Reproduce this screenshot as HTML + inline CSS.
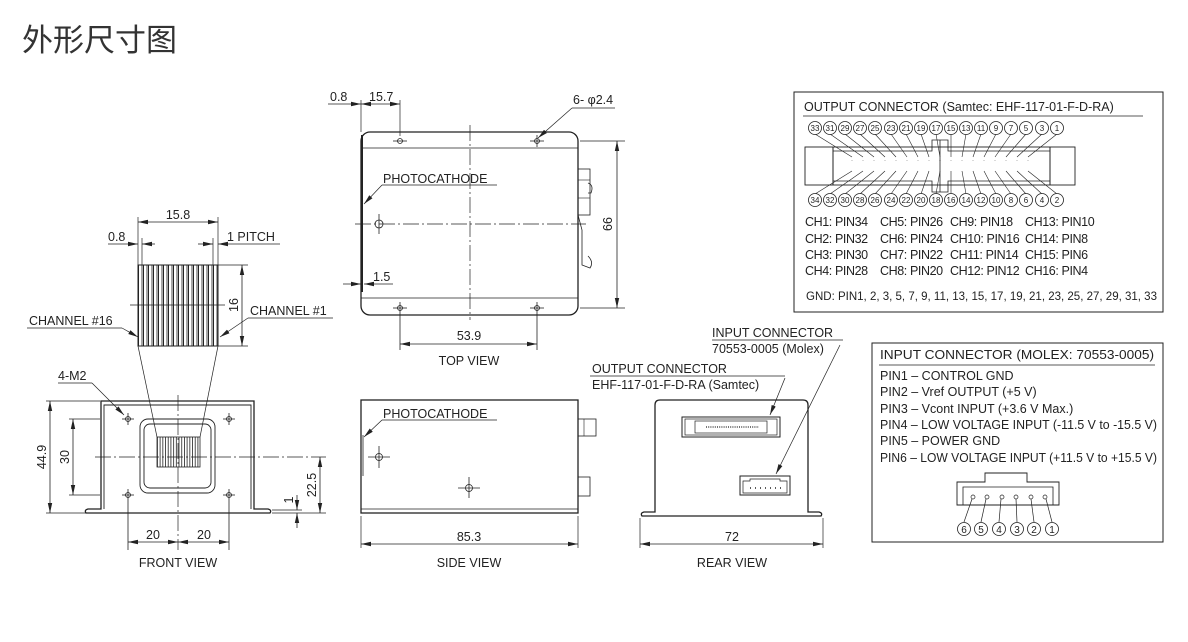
<!DOCTYPE html>
<html><head><meta charset="utf-8"><style>
html,body{margin:0;padding:0;background:#fff}
svg{display:block}
text{font-family:"Liberation Sans",Arial,sans-serif;fill:#222;font-size:12.5px}
.c{text-anchor:middle}
.n{font-size:8px;text-anchor:middle}
</style></head><body>
<svg width="1188" height="642" viewBox="0 0 1188 642" xmlns="http://www.w3.org/2000/svg">
<defs>
<pattern id="strip" x="138" y="0" width="5" height="10" patternUnits="userSpaceOnUse">
<rect x="0" y="0" width="1" height="10" fill="#222"/><rect x="3.6" y="0" width="0.8" height="10" fill="#222"/>
</pattern>
<pattern id="strip2" x="157" y="0" width="2.7" height="10" patternUnits="userSpaceOnUse">
<rect x="0" y="0" width="0.8" height="10" fill="#222"/>
</pattern>
<pattern id="pins" x="849" y="0" width="11" height="20" patternUnits="userSpaceOnUse">
<circle cx="3" cy="3" r="1.8" fill="none" stroke="#222" stroke-width="0.8"/>
</pattern>
<marker id="a" markerWidth="10" markerHeight="6" refX="10" refY="3" orient="auto" markerUnits="userSpaceOnUse"><path d="M0,0.8 L10,3 L0,5.2z" fill="#222"/></marker>
<marker id="b" markerWidth="10" markerHeight="6" refX="0" refY="3" orient="auto" markerUnits="userSpaceOnUse"><path d="M10,0.8 L0,3 L10,5.2z" fill="#222"/></marker>
</defs>

<text x="22" y="51" style="font-family:'Liberation Sans','Noto Sans CJK SC',sans-serif;font-size:31px;fill:#333">外形尺寸图</text>

<g stroke="#222" fill="none" stroke-width="1">
<!-- ===== FRONT VIEW ===== -->
<rect x="138" y="265" width="80" height="81" fill="url(#strip)" stroke="#222"/>
<line x1="130" y1="305" x2="225" y2="305" stroke-width="0.7"/>
<line x1="138" y1="217" x2="138" y2="265" stroke-width="0.7"/>
<line x1="218" y1="217" x2="218" y2="265" stroke-width="0.7"/>
<line x1="142" y1="238" x2="142" y2="265" stroke-width="0.7"/>
<line x1="213" y1="238" x2="213" y2="265" stroke-width="0.7"/>
<line x1="138" y1="222" x2="218" y2="222" marker-start="url(#b)" marker-end="url(#a)" stroke-width="0.8"/>
<line x1="108" y1="244" x2="138" y2="244" marker-end="url(#a)" stroke-width="0.8"/>
<line x1="155" y1="244" x2="142" y2="244" marker-end="url(#a)" stroke-width="0.8"/>
<line x1="198" y1="244" x2="213" y2="244" marker-end="url(#a)" stroke-width="0.8"/>
<line x1="280" y1="244" x2="218" y2="244" marker-end="url(#a)" stroke-width="0.8"/>
<line x1="218" y1="265" x2="248" y2="265" stroke-width="0.7"/>
<line x1="218" y1="346" x2="248" y2="346" stroke-width="0.7"/>
<line x1="242" y1="265" x2="242" y2="346" marker-start="url(#b)" marker-end="url(#a)" stroke-width="0.8"/>
<line x1="27" y1="328" x2="122" y2="328" stroke-width="0.7"/>
<line x1="122" y1="328" x2="138" y2="337" marker-end="url(#a)" stroke-width="0.7"/>
<line x1="248" y1="318" x2="333" y2="318" stroke-width="0.7"/>
<line x1="248" y1="318" x2="220" y2="337" marker-end="url(#a)" stroke-width="0.7"/>
<line x1="138" y1="346" x2="157" y2="437" stroke-width="0.7"/>
<line x1="218" y1="346" x2="200" y2="437" stroke-width="0.7"/>
<path d="M86,513 Q84,510 88,509 L101,509 L101,401 L254,401 L254,509 L268,509 Q272,510 270,513 Z" stroke-width="1.3"/>
<path d="M104,509 L104,405 L251,405 L251,509" stroke-width="0.9"/>
<rect x="140" y="419" width="75" height="74" rx="8" stroke-width="0.9"/>
<rect x="144" y="424" width="67" height="64" rx="6" stroke-width="0.9"/>
<rect x="157" y="437" width="43" height="30" fill="url(#strip2)" stroke-width="0.8"/>
<g stroke-width="0.8">
<circle cx="128" cy="419" r="2.5"/><line x1="122" y1="419" x2="134" y2="419"/><line x1="128" y1="413" x2="128" y2="425"/>
<circle cx="229" cy="419" r="2.5"/><line x1="223" y1="419" x2="235" y2="419"/><line x1="229" y1="413" x2="229" y2="425"/>
<circle cx="128" cy="495" r="2.5"/><line x1="122" y1="495" x2="134" y2="495"/><line x1="128" y1="489" x2="128" y2="550"/>
<circle cx="229" cy="495" r="2.5"/><line x1="223" y1="495" x2="235" y2="495"/><line x1="229" y1="489" x2="229" y2="550"/>
</g>
<line x1="178" y1="395" x2="178" y2="550" stroke-width="0.7" stroke-dasharray="16,3,2,3"/>
<line x1="95" y1="457" x2="326" y2="457" stroke-width="0.7" stroke-dasharray="16,3,2,3"/>
<line x1="46" y1="401" x2="100" y2="401" stroke-width="0.7"/>
<line x1="46" y1="513" x2="86" y2="513" stroke-width="0.7"/>
<line x1="50" y1="401" x2="50" y2="513" marker-start="url(#b)" marker-end="url(#a)" stroke-width="0.8"/>
<line x1="69" y1="419" x2="100" y2="419" stroke-width="0.7"/>
<line x1="69" y1="495" x2="100" y2="495" stroke-width="0.7"/>
<line x1="73" y1="419" x2="73" y2="495" marker-start="url(#b)" marker-end="url(#a)" stroke-width="0.8"/>
<line x1="272" y1="513" x2="326" y2="513" stroke-width="0.7"/>
<line x1="272" y1="510" x2="302" y2="510" stroke-width="0.7"/>
<line x1="320" y1="457" x2="320" y2="513" marker-start="url(#b)" marker-end="url(#a)" stroke-width="0.8"/>
<line x1="297" y1="495" x2="297" y2="510" marker-end="url(#a)" stroke-width="0.8"/>
<line x1="297" y1="528" x2="297" y2="513" marker-end="url(#a)" stroke-width="0.8"/>
<line x1="128" y1="542" x2="178" y2="542" marker-start="url(#b)" marker-end="url(#a)" stroke-width="0.8"/>
<line x1="178" y1="542" x2="229" y2="542" marker-start="url(#b)" marker-end="url(#a)" stroke-width="0.8"/>
<line x1="58" y1="383" x2="92" y2="383" stroke-width="0.7"/>
<line x1="92" y1="383" x2="124" y2="415" marker-end="url(#a)" stroke-width="0.7"/>

<!-- ===== TOP VIEW ===== -->
<rect x="361" y="132" width="217" height="183" rx="9" stroke-width="1.3"/>
<line x1="361" y1="148" x2="578" y2="148" stroke-width="0.8"/>
<line x1="361" y1="298" x2="578" y2="298" stroke-width="0.8"/>
<line x1="362" y1="135" x2="362" y2="292" stroke-width="2"/>
<line x1="470" y1="125" x2="470" y2="320" stroke-width="0.7" stroke-dasharray="16,3,2,3"/>
<line x1="355" y1="224" x2="586" y2="224" stroke-width="0.7" stroke-dasharray="16,3,2,3"/>
<g stroke-width="0.8">
<circle cx="400" cy="141" r="2.5"/><line x1="393" y1="141" x2="407" y2="141"/>
<circle cx="537" cy="141" r="2.5"/><line x1="530" y1="141" x2="544" y2="141"/><line x1="537" y1="135" x2="537" y2="147"/>
<circle cx="400" cy="308" r="2.5"/><line x1="393" y1="308" x2="407" y2="308"/><line x1="400" y1="302" x2="400" y2="350"/>
<circle cx="537" cy="308" r="2.5"/><line x1="530" y1="308" x2="544" y2="308"/><line x1="537" y1="302" x2="537" y2="350"/>
<circle cx="379" cy="224" r="4"/><line x1="379" y1="214" x2="379" y2="234"/>
</g>
<rect x="578" y="169" width="12" height="46" stroke-width="0.8"/>
<line x1="578" y1="180" x2="590" y2="180" stroke-width="0.6"/><line x1="578" y1="198" x2="590" y2="198" stroke-width="0.6"/>
<path d="M588,183 q6,2 3,10 l-3,0" stroke-width="0.8"/>
<path d="M578,215 L582,230 L582,265 L590,268 q4,-6 -2,-12" stroke-width="0.8"/>
<line x1="580" y1="141" x2="625" y2="141" stroke-width="0.7"/>
<line x1="580" y1="308" x2="625" y2="308" stroke-width="0.7"/>
<line x1="617" y1="141" x2="617" y2="308" marker-start="url(#b)" marker-end="url(#a)" stroke-width="0.8"/>
<line x1="361" y1="100" x2="361" y2="132" stroke-width="0.7"/>
<line x1="400" y1="100" x2="400" y2="136" stroke-width="0.7"/>
<line x1="328" y1="104" x2="361" y2="104" marker-end="url(#a)" stroke-width="0.8"/>
<line x1="361" y1="104" x2="400" y2="104" marker-start="url(#b)" marker-end="url(#a)" stroke-width="0.8"/>
<line x1="572" y1="108" x2="615" y2="108" stroke-width="0.7"/>
<line x1="572" y1="108" x2="538" y2="138" marker-end="url(#a)" stroke-width="0.7"/>
<line x1="382" y1="185" x2="497" y2="185" stroke-width="0.7"/>
<line x1="382" y1="185" x2="364" y2="204" marker-end="url(#a)" stroke-width="0.7"/>
<line x1="343" y1="284" x2="361" y2="284" marker-end="url(#a)" stroke-width="0.8"/>
<line x1="393" y1="284" x2="364" y2="284" marker-end="url(#a)" stroke-width="0.8"/>
<line x1="400" y1="344" x2="537" y2="344" marker-start="url(#b)" marker-end="url(#a)" stroke-width="0.8"/>

<!-- ===== SIDE VIEW ===== -->
<rect x="361" y="400" width="217" height="113" stroke-width="1.3"/>
<line x1="361" y1="509" x2="578" y2="509" stroke-width="0.8"/>
<line x1="363" y1="435" x2="363" y2="476" stroke-width="0.8"/>
<rect x="578" y="419" width="18" height="17" stroke-width="0.8"/><line x1="584" y1="419" x2="584" y2="436" stroke-width="0.6"/>
<rect x="578" y="477" width="12" height="19" stroke-width="0.8"/>
<g stroke-width="0.8">
<circle cx="379" cy="457" r="3.5"/><line x1="368" y1="457" x2="390" y2="457"/><line x1="379" y1="446" x2="379" y2="468"/>
<circle cx="469" cy="488" r="3.5"/><line x1="458" y1="488" x2="480" y2="488"/><line x1="469" y1="477" x2="469" y2="498"/>
</g>
<line x1="382" y1="420" x2="497" y2="420" stroke-width="0.7"/>
<line x1="382" y1="420" x2="364" y2="437" marker-end="url(#a)" stroke-width="0.7"/>
<line x1="361" y1="516" x2="361" y2="548" stroke-width="0.7"/>
<line x1="578" y1="516" x2="578" y2="548" stroke-width="0.7"/>
<line x1="361" y1="544" x2="578" y2="544" marker-start="url(#b)" marker-end="url(#a)" stroke-width="0.8"/>

<!-- ===== REAR VIEW ===== -->
<path d="M642,516 Q640,513 644,512 L655,512 L655,405 Q655,400 660,400 L803,400 Q808,400 808,405 L808,512 L819,512 Q823,513 821,516 Z" stroke-width="1.3"/>
<rect x="682" y="417" width="98" height="20" stroke-width="1"/>
<rect x="685" y="419" width="92" height="16" stroke-width="0.7"/>
<rect x="695" y="421" width="72" height="12" stroke-width="0.7"/>
<line x1="706" y1="427" x2="759" y2="427" stroke-dasharray="1,1.2" stroke-width="1.2"/>
<rect x="740" y="476" width="50" height="19" stroke-width="1"/>
<path d="M743,493 L743,481 L750,481 L750,479 L780,479 L780,481 L787,481 L787,493 Z" stroke-width="0.7"/>
<line x1="750" y1="488" x2="782" y2="488" stroke-dasharray="1,4" stroke-width="1.5"/>
<line x1="640" y1="518" x2="640" y2="548" stroke-width="0.7"/>
<line x1="823" y1="518" x2="823" y2="548" stroke-width="0.7"/>
<line x1="640" y1="544" x2="823" y2="544" marker-start="url(#b)" marker-end="url(#a)" stroke-width="0.8"/>
<line x1="590" y1="376" x2="785" y2="376" stroke-width="0.7"/>
<line x1="785" y1="378" x2="770" y2="415" marker-end="url(#a)" stroke-width="0.7"/>
<line x1="712" y1="340" x2="843" y2="340" stroke-width="0.7"/>
<line x1="840" y1="345" x2="776" y2="474" marker-end="url(#a)" stroke-width="0.7"/>

<!-- ===== OUTPUT CONNECTOR BOX ===== -->
<rect x="794" y="92" width="369" height="220" stroke-width="1"/>
<line x1="803" y1="116" x2="1143" y2="116" stroke-width="0.8"/>
<rect x="805" y="147" width="270" height="38" stroke-width="0.9"/>
<line x1="833" y1="147" x2="833" y2="185"/><line x1="1050" y1="147" x2="1050" y2="185"/>
<path d="M833,151 L932,151 L932,140 L948,140 L948,151 L1050,151 M833,181 L932,181 L932,192 L948,192 L948,181 L1050,181 M940,140 L940,192" stroke-width="0.8"/>
<rect x="849" y="155" width="187" height="6" fill="url(#pins)" stroke="none"/>
<rect x="849" y="167" width="187" height="6" fill="url(#pins)" stroke="none"/>
<g stroke-width="0.6">
<line x1="815" y1="134" x2="852" y2="157"/><line x1="830" y1="134" x2="863" y2="157"/><line x1="845" y1="134" x2="874" y2="157"/><line x1="860" y1="134" x2="885" y2="157"/><line x1="875" y1="134" x2="896" y2="157"/><line x1="891" y1="134" x2="907" y2="157"/><line x1="906" y1="134" x2="918" y2="157"/><line x1="921" y1="134" x2="929" y2="157"/><line x1="936" y1="134" x2="940" y2="157"/><line x1="951" y1="134" x2="951" y2="157"/><line x1="966" y1="134" x2="962" y2="157"/><line x1="981" y1="134" x2="973" y2="157"/><line x1="996" y1="134" x2="984" y2="157"/><line x1="1011" y1="134" x2="995" y2="157"/><line x1="1026" y1="134" x2="1006" y2="157"/><line x1="1042" y1="134" x2="1017" y2="157"/><line x1="1057" y1="134" x2="1028" y2="157"/>
<line x1="815" y1="194" x2="852" y2="171"/><line x1="830" y1="194" x2="863" y2="171"/><line x1="845" y1="194" x2="874" y2="171"/><line x1="860" y1="194" x2="885" y2="171"/><line x1="875" y1="194" x2="896" y2="171"/><line x1="891" y1="194" x2="907" y2="171"/><line x1="906" y1="194" x2="918" y2="171"/><line x1="921" y1="194" x2="929" y2="171"/><line x1="936" y1="194" x2="940" y2="171"/><line x1="951" y1="194" x2="951" y2="171"/><line x1="966" y1="194" x2="962" y2="171"/><line x1="981" y1="194" x2="973" y2="171"/><line x1="996" y1="194" x2="984" y2="171"/><line x1="1011" y1="194" x2="995" y2="171"/><line x1="1026" y1="194" x2="1006" y2="171"/><line x1="1042" y1="194" x2="1017" y2="171"/><line x1="1057" y1="194" x2="1028" y2="171"/>
</g>
<g stroke-width="0.8" fill="#fff">
<circle cx="815" cy="128" r="6.5"/><circle cx="830" cy="128" r="6.5"/><circle cx="845" cy="128" r="6.5"/><circle cx="860" cy="128" r="6.5"/><circle cx="875" cy="128" r="6.5"/><circle cx="891" cy="128" r="6.5"/><circle cx="906" cy="128" r="6.5"/><circle cx="921" cy="128" r="6.5"/><circle cx="936" cy="128" r="6.5"/><circle cx="951" cy="128" r="6.5"/><circle cx="966" cy="128" r="6.5"/><circle cx="981" cy="128" r="6.5"/><circle cx="996" cy="128" r="6.5"/><circle cx="1011" cy="128" r="6.5"/><circle cx="1026" cy="128" r="6.5"/><circle cx="1042" cy="128" r="6.5"/><circle cx="1057" cy="128" r="6.5"/>
<circle cx="815" cy="200" r="6.5"/><circle cx="830" cy="200" r="6.5"/><circle cx="845" cy="200" r="6.5"/><circle cx="860" cy="200" r="6.5"/><circle cx="875" cy="200" r="6.5"/><circle cx="891" cy="200" r="6.5"/><circle cx="906" cy="200" r="6.5"/><circle cx="921" cy="200" r="6.5"/><circle cx="936" cy="200" r="6.5"/><circle cx="951" cy="200" r="6.5"/><circle cx="966" cy="200" r="6.5"/><circle cx="981" cy="200" r="6.5"/><circle cx="996" cy="200" r="6.5"/><circle cx="1011" cy="200" r="6.5"/><circle cx="1026" cy="200" r="6.5"/><circle cx="1042" cy="200" r="6.5"/><circle cx="1057" cy="200" r="6.5"/>
</g>

<!-- ===== INPUT CONNECTOR BOX ===== -->
<rect x="872" y="343" width="291" height="199" stroke-width="1"/>
<line x1="879" y1="365" x2="1155" y2="365" stroke-width="0.8"/>
<path d="M957,505 L957,482 L985,482 L985,473 L1027,473 L1027,482 L1059,482 L1059,505 Z" stroke-width="0.9"/>
<path d="M963,505 L963,487 L1053,487 L1053,505" stroke-width="0.8"/>
<g stroke-width="0.7">
<circle cx="973" cy="497" r="2"/><circle cx="987" cy="497" r="2"/><circle cx="1002" cy="497" r="2"/><circle cx="1016" cy="497" r="2"/><circle cx="1031" cy="497" r="2"/><circle cx="1045" cy="497" r="2"/>
<line x1="972" y1="499" x2="964" y2="522"/><line x1="986" y1="499" x2="981" y2="522"/><line x1="1001" y1="499" x2="999" y2="522"/><line x1="1016" y1="499" x2="1017" y2="522"/><line x1="1031" y1="499" x2="1034" y2="522"/><line x1="1046" y1="499" x2="1052" y2="522"/>
</g>
<g stroke-width="0.8" fill="#fff">
<circle cx="964" cy="529" r="6.5"/><circle cx="981" cy="529" r="6.5"/><circle cx="999" cy="529" r="6.5"/><circle cx="1017" cy="529" r="6.5"/><circle cx="1034" cy="529" r="6.5"/><circle cx="1052" cy="529" r="6.5"/>
</g>
</g>

<!-- texts -->
<text class="c" x="178" y="219">15.8</text>
<text x="108" y="241">0.8</text>
<text x="227" y="241">1 PITCH</text>
<text class="c" transform="translate(238,305) rotate(-90)">16</text>
<text x="29" y="325">CHANNEL #16</text>
<text x="250" y="315">CHANNEL #1</text>
<text x="58" y="380">4-M2</text>
<text class="c" transform="translate(46,457) rotate(-90)">44.9</text>
<text class="c" transform="translate(69,457) rotate(-90)">30</text>
<text class="c" transform="translate(316,485) rotate(-90)">22.5</text>
<text class="c" transform="translate(293,500) rotate(-90)">1</text>
<text class="c" x="153" y="539">20</text>
<text class="c" x="204" y="539">20</text>
<text class="c" x="178" y="567">FRONT VIEW</text>

<text x="330" y="101">0.8</text>
<text x="369" y="101">15.7</text>
<text x="573" y="104">6- φ2.4</text>
<text x="383" y="183">PHOTOCATHODE</text>
<text x="373" y="281">1.5</text>
<text class="c" transform="translate(612,224) rotate(-90)">66</text>
<text class="c" x="469" y="340">53.9</text>
<text class="c" x="469" y="365">TOP VIEW</text>

<text x="383" y="418">PHOTOCATHODE</text>
<text class="c" x="469" y="541">85.3</text>
<text class="c" x="469" y="567">SIDE VIEW</text>

<text x="712" y="337">INPUT CONNECTOR</text>
<text x="712" y="353">70553-0005 (Molex)</text>
<text x="592" y="373">OUTPUT CONNECTOR</text>
<text x="592" y="389">EHF-117-01-F-D-RA (Samtec)</text>
<text class="c" x="732" y="541">72</text>
<text class="c" x="732" y="567">REAR VIEW</text>

<text x="804" y="111">OUTPUT CONNECTOR (Samtec: EHF-117-01-F-D-RA)</text>
<g>
<text class="n" x="815" y="131">33</text><text class="n" x="830" y="131">31</text><text class="n" x="845" y="131">29</text><text class="n" x="860" y="131">27</text><text class="n" x="875" y="131">25</text><text class="n" x="891" y="131">23</text><text class="n" x="906" y="131">21</text><text class="n" x="921" y="131">19</text><text class="n" x="936" y="131">17</text><text class="n" x="951" y="131">15</text><text class="n" x="966" y="131">13</text><text class="n" x="981" y="131">11</text><text class="n" x="996" y="131">9</text><text class="n" x="1011" y="131">7</text><text class="n" x="1026" y="131">5</text><text class="n" x="1042" y="131">3</text><text class="n" x="1057" y="131">1</text>
<text class="n" x="815" y="203">34</text><text class="n" x="830" y="203">32</text><text class="n" x="845" y="203">30</text><text class="n" x="860" y="203">28</text><text class="n" x="875" y="203">26</text><text class="n" x="891" y="203">24</text><text class="n" x="906" y="203">22</text><text class="n" x="921" y="203">20</text><text class="n" x="936" y="203">18</text><text class="n" x="951" y="203">16</text><text class="n" x="966" y="203">14</text><text class="n" x="981" y="203">12</text><text class="n" x="996" y="203">10</text><text class="n" x="1011" y="203">8</text><text class="n" x="1026" y="203">6</text><text class="n" x="1042" y="203">4</text><text class="n" x="1057" y="203">2</text>
</g>
<g style="font-size:12px;letter-spacing:-0.4px">
<text x="805" y="226">CH1: PIN34</text><text x="880" y="226">CH5: PIN26</text><text x="950" y="226">CH9: PIN18</text><text x="1025" y="226">CH13: PIN10</text>
<text x="805" y="243">CH2: PIN32</text><text x="880" y="243">CH6: PIN24</text><text x="950" y="243">CH10: PIN16</text><text x="1025" y="243">CH14: PIN8</text>
<text x="805" y="259">CH3: PIN30</text><text x="880" y="259">CH7: PIN22</text><text x="950" y="259">CH11: PIN14</text><text x="1025" y="259">CH15: PIN6</text>
<text x="805" y="275">CH4: PIN28</text><text x="880" y="275">CH8: PIN20</text><text x="950" y="275">CH12: PIN12</text><text x="1025" y="275">CH16: PIN4</text>
</g>
<text x="806" y="300" style="font-size:12px" textLength="351" lengthAdjust="spacingAndGlyphs">GND: PIN1, 2, 3, 5, 7, 9, 11, 13, 15, 17, 19, 21, 23, 25, 27, 29, 31, 33</text>

<text x="880" y="359" textLength="274" lengthAdjust="spacingAndGlyphs">INPUT CONNECTOR (MOLEX: 70553-0005)</text>
<text x="880" y="380">PIN1 – CONTROL GND</text>
<text x="880" y="396">PIN2 – Vref OUTPUT (+5 V)</text>
<text x="880" y="413">PIN3 – Vcont INPUT (+3.6 V Max.)</text>
<text x="880" y="429" textLength="277" lengthAdjust="spacingAndGlyphs">PIN4 – LOW VOLTAGE INPUT (-11.5 V to -15.5 V)</text>
<text x="880" y="445">PIN5 – POWER GND</text>
<text x="880" y="462" textLength="277" lengthAdjust="spacingAndGlyphs">PIN6 – LOW VOLTAGE INPUT (+11.5 V to +15.5 V)</text>
<g>
<text class="c" x="964" y="533" style="font-size:10px">6</text><text class="c" x="981" y="533" style="font-size:10px">5</text><text class="c" x="999" y="533" style="font-size:10px">4</text><text class="c" x="1017" y="533" style="font-size:10px">3</text><text class="c" x="1034" y="533" style="font-size:10px">2</text><text class="c" x="1052" y="533" style="font-size:10px">1</text>
</g>
</svg>
</body></html>
